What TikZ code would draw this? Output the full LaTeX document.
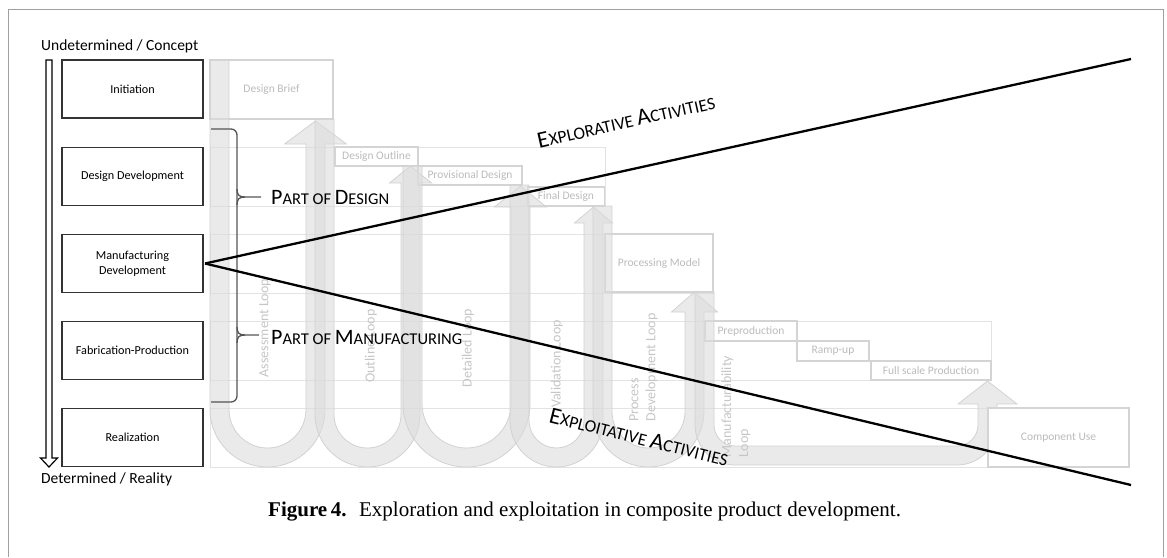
\documentclass[tikz,border=0pt]{standalone}
\usepackage{fontspec}
\setmainfont{Carlito}
\newfontfamily\capfont{Liberation Serif}
\definecolor{bandline}{HTML}{E3E3E3}
\definecolor{boxline}{HTML}{D4D4D4}
\definecolor{boxtext}{HTML}{BBBBBB}
\definecolor{loopfill}{HTML}{DCDCDC}
\definecolor{loopline}{HTML}{D2D2D2}
\definecolor{looptext}{HTML}{C6C6C6}
\definecolor{frameline}{HTML}{A0A0A0}
\definecolor{bracecol}{HTML}{555555}
\newcommand\bigc[1]{{\fontsize{22}{22}\selectfont #1}}
\newcommand\bigd[1]{{\fontsize{23.5}{23.5}\selectfont #1}}
\newcommand\uloop[6]{%
 \pgfmathsetmacro\lpR{(#2-#1)/2}%
 \pgfmathsetmacro\lpCy{467-\lpR}%
 \pgfmathsetmacro\lpRi{\lpR-19}%
 \pgfmathsetmacro\lpTx{#2-9.5}%
 \pgfmathsetmacro\lpHr{\lpTx+#6}%
 \pgfmathsetmacro\lpHl{\lpTx-#6}%
 \pgfmathsetmacro\lpSl{#2-19}%
 \pgfmathsetmacro\lpIl{#1+19}%
 \draw[loopsty] (#1,#3) -- (#1,\lpCy) arc[start angle=180,end angle=0,radius=\lpR] -- (#2,#4) -- (\lpHr,#4) -- (\lpTx,#5) -- (\lpHl,#4) -- (\lpSl,#4) -- (\lpSl,\lpCy) arc[start angle=0,end angle=180,radius=\lpRi] -- (\lpIl,#3) -- cycle;}
\begin{document}
\begin{tikzpicture}[x=1pt,y=-1pt,
  band/.style={draw=bandline,line width=0.9pt},
  lbox/.style={draw=boxline,line width=1.1pt,text=boxtext,font=\fontsize{11.5}{13}\selectfont,inner sep=0pt,outer sep=0pt},
  loopsty/.style={fill=loopfill,fill opacity=0.6,draw=loopline,line width=0.8pt},
  looplab/.style={text=looptext,font=\fontsize{14}{17}\selectfont,rotate=90,inner sep=0pt},
  phase/.style={draw=black!80,line width=1.5pt,minimum width=141pt,minimum height=58pt,inner sep=0pt,outer sep=0pt,align=center,font=\fontsize{12.2}{15}\selectfont},
  bracesty/.style={draw=bracecol,line width=1.3pt},
  activ/.style={line width=2.3pt,black},
  smallcap/.style={font=\fontsize{16.5}{16.5}\selectfont,inner sep=0pt},
  smallcapb/.style={font=\fontsize{17.5}{17.5}\selectfont,inner sep=0pt}]
\useasboundingbox (0,0) rectangle (1167,557);
% frame
\draw[frameline,line width=1pt] (8,557) -- (8,9) -- (1163,9) -- (1163,557);
% bands
\draw[band] (210,147) rectangle (605,206);
\draw[band] (210,234) rectangle (713,293);
\draw[band] (210,321) rectangle (991,380);
\draw[band] (210,408) rectangle (988,467);
% labelled light boxes
\node[lbox,minimum width=123pt,minimum height=59pt] (brief) at (271.5,89.5) {Design Brief};
\node[lbox,minimum width=83pt,minimum height=19pt] (outline) at (376.5,156.5) {Design Outline};
\node[lbox,minimum width=104pt,minimum height=19pt] (prov) at (470,175.5) {Provisional Design};
\node[lbox,minimum width=77pt,minimum height=19pt] (final) at (566,196.5) {Final Design};
\node[lbox,minimum width=108pt,minimum height=58pt] (procm) at (659,263) {Processing Model};
\node[lbox,minimum width=92pt,minimum height=20pt] (prepro) at (751,331) {Preproduction};
\node[lbox,minimum width=72pt,minimum height=20pt] (ramp) at (833,351) {Ramp-up};
\node[lbox,minimum width=120pt,minimum height=19pt] (fullsc) at (931,370.5) {Full scale Production};
% loops
\uloop{210}{325}{60}{144}{121}{31}
\uloop{315}{420}{119}{183}{166}{21}
\uloop{403}{530}{166}{207}{186}{26}
\uloop{510}{603}{185}{223}{207}{19}
\uloop{593}{704}{206}{312}{292}{23}
\draw[loopsty] (695,292) -- (695,425) arc[start angle=180,end angle=90,radius=40] -- (957,465) arc[start angle=90,end angle=0,radius=40] -- (997,404) -- (1017,404) -- (987.5,381) -- (958,404) -- (978,404) -- (978,425) arc[start angle=0,end angle=90,radius=21] -- (735,446) arc[start angle=90,end angle=180,radius=21] -- (714,292) -- cycle;
\node[lbox,fill=white,minimum width=141pt,minimum height=59pt] (comp) at (1058.5,437.5) {Component Use};
% loop labels
\node[looplab] (lassess) at (265,328) {Assessment Loop};
\node[looplab] (loutline) at (371,346) {Outline Loop};
\node[looplab] (ldetail) at (468,348) {Detailed Loop};
\node[looplab] (lvalid) at (557,364) {Validation Loop};
\node[looplab,align=left] (lproc) at (643.5,367.5) {Process\\Development Loop};
\node[looplab,align=left] (lmanu) at (736,406.5) {Manufacturability\\Loop};
% left axis arrow
\draw[black,line width=1.2pt,fill=white] (46,60) -- (52,60) -- (52,458) -- (57.5,458) -- (49,467) -- (40.5,458) -- (46,458) -- cycle;
\node[anchor=west,inner sep=0pt,font=\fontsize{15.5}{17}\selectfont] (undet) at (41,46) {Undetermined / Concept};
\node[anchor=west,inner sep=0pt,font=\fontsize{15.5}{17}\selectfont] (det) at (41,479) {Determined / Reality};
% phase boxes
\node[phase] (init) at (132.5,89) {Initiation};
\node[phase] (ddev) at (132.5,176.5) {Design Development};
\node[phase] (mdev) at (132.5,263.5) {Manufacturing\\Development};
\node[phase] (fab) at (132.5,350.5) {Fabrication-Production};
\node[phase] (real) at (132.5,437.5) {Realization};
% braces
\draw[bracesty,rounded corners=6pt] (211,129) -- (237,129) -- (237,402) -- (211,402);
\draw[bracesty] (237,189) .. controls (237,195) and (239,197) .. (245,197) -- (261,197);
\draw[bracesty] (237,205) .. controls (237,199) and (239,197) .. (245,197);
\draw[bracesty] (237,327) .. controls (237,333) and (239,335) .. (245,335) -- (259,335);
\draw[bracesty] (237,343) .. controls (237,337) and (239,335) .. (245,335);
\node[smallcap,anchor=west] (pdes) at (271,197) {\bigc{P}ART OF \bigc{D}ESIGN};
\node[smallcap,anchor=west] (pman) at (271,337) {\bigc{P}ART OF \bigc{M}ANUFACTURING};
% activity lines
\coordinate (expEnd) at (1131,59);
\coordinate (explEnd) at (1131,485);
\draw[activ] (mdev.east) ++(2,0) coordinate (apex) -- (expEnd);
\draw[activ] (apex) -- (explEnd);
\node[smallcapb,rotate=12.6] (explo) at (626,121) {\bigd{E}XPLORATIVE \bigd{A}CTIVITIES};
\node[smallcapb,rotate=-14] (exploi) at (639,437) {\bigd{E}XPLOITATIVE \bigd{A}CTIVITIES};
% caption
\node[anchor=west,inner sep=0pt,font=\capfont\fontsize{21}{23}\selectfont] (capt) at (268,512) {\textbf{Figure\,4.}\hspace{0.6em}Exploration and exploitation in composite product development.};
\end{tikzpicture}
\end{document}
